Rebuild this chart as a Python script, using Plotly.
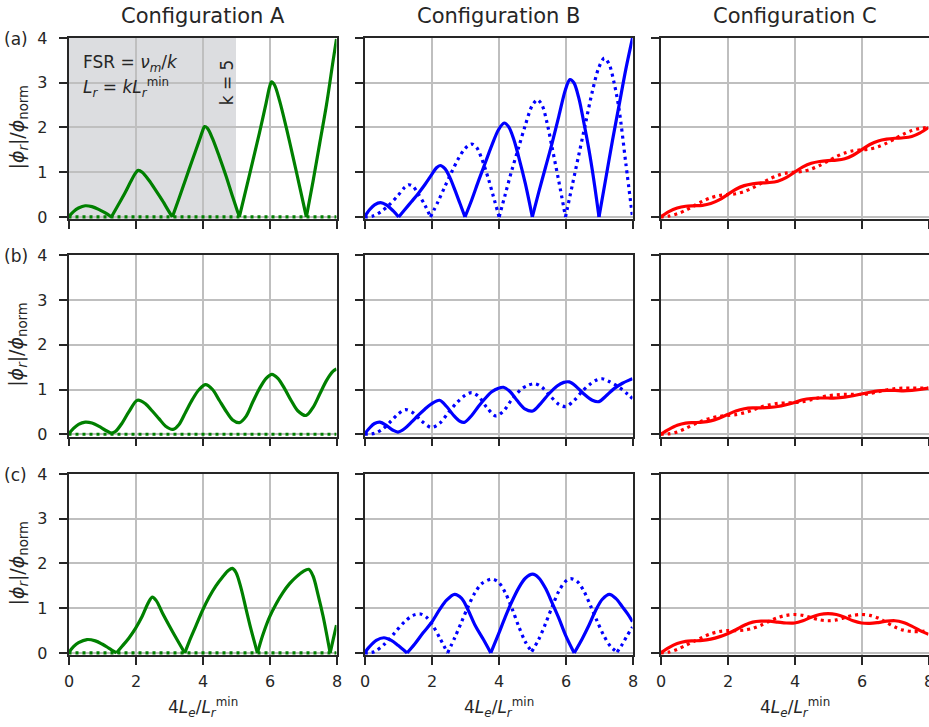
import plotly.graph_objects as go

# ---------------------------------------------------------------- data
# Configuration A (green): solid curves per row, dotted reference stays at zero
A_a_x = [0, 0.15, 0.3, 0.5, 0.7, 0.9, 1.1, 1.28, 1.5, 1.7, 1.85, 2.0, 2.08, 2.2, 2.4, 2.6, 2.8, 3.0, 3.1,
         3.3, 3.5, 3.7, 3.9, 4.0, 4.06, 4.15, 4.3, 4.5, 4.7, 4.9, 5.1,
         5.3, 5.5, 5.7, 5.9, 6.0, 6.06, 6.15, 6.3, 6.5, 6.7, 6.9, 7.1, 7.3, 7.5, 7.7, 7.9, 8.0]
A_a_y = [0, 0.12, 0.2, 0.25, 0.23, 0.17, 0.09, 0, 0.29, 0.56, 0.78, 0.98, 1.04, 1.0, 0.82, 0.6, 0.37, 0.12, 0,
         0.42, 0.85, 1.28, 1.7, 1.92, 2.02, 1.98, 1.75, 1.35, 0.92, 0.45, 0,
         0.62, 1.25, 1.88, 2.55, 2.9, 3.02, 2.95, 2.6, 2.0, 1.35, 0.68, 0, 0.8, 1.65, 2.5, 3.5, 3.98]

A_b_x = [0, 0.15, 0.3, 0.5, 0.7, 0.9, 1.1, 1.28, 1.4, 1.6, 1.8, 2.06, 2.3, 2.5, 2.7, 2.9, 3.12, 3.3, 3.5, 3.7,
         3.9, 4.09, 4.3, 4.5, 4.7, 4.9, 5.1, 5.3, 5.5, 5.7, 5.9, 6.07, 6.25, 6.45, 6.65, 6.85, 7.09, 7.3,
         7.5, 7.7, 7.9, 8.0]
A_b_y = [0, 0.13, 0.22, 0.27, 0.25, 0.18, 0.09, 0.02, 0.06, 0.25, 0.5, 0.76, 0.68, 0.52, 0.35, 0.18, 0.11, 0.22,
         0.5, 0.78, 1.0, 1.11, 1.0, 0.76, 0.52, 0.32, 0.26, 0.4, 0.72, 1.02, 1.25, 1.34, 1.25, 1.02, 0.75, 0.52,
         0.42, 0.6, 0.9, 1.2, 1.41, 1.46]

A_c_x = [0, 0.15, 0.3, 0.55, 0.8, 1.0, 1.2, 1.43, 1.6, 1.8, 2.0, 2.2, 2.38, 2.5, 2.62, 2.8, 3.0, 3.2, 3.47,
         3.6, 3.8, 4.0, 4.2, 4.4, 4.6, 4.78, 4.89, 5.0, 5.15, 5.3, 5.45, 5.64,
         5.8, 6.0, 6.2, 6.4, 6.6, 6.8, 7.0, 7.17, 7.3, 7.45, 7.6, 7.81, 7.9, 8.0]
A_c_y = [0, 0.14, 0.23, 0.3, 0.27, 0.2, 0.11, 0, 0.15, 0.33, 0.55, 0.82, 1.12, 1.25, 1.17, 0.9, 0.62, 0.35, 0,
         0.25, 0.6, 0.95, 1.25, 1.5, 1.7, 1.85, 1.89, 1.8, 1.45, 0.98, 0.52, 0,
         0.4, 0.8, 1.1, 1.35, 1.55, 1.7, 1.82, 1.87, 1.72, 1.3, 0.82, 0, 0.3, 0.62]

A_ref_x = [0, 8]
A_ref_y = [0, 0]

# Configuration B (blue)
B_a_x = [0, 0.15, 0.3, 0.48, 0.65, 0.85, 1.02, 1.2, 1.4, 1.6, 1.8, 2.0, 2.15, 2.26, 2.4, 2.55, 2.7, 2.85, 3.0,
         3.2, 3.4, 3.6, 3.8, 4.0, 4.17, 4.3, 4.45, 4.6, 4.8, 5.01,
         5.2, 5.4, 5.6, 5.8, 6.0, 6.13, 6.25, 6.4, 6.55, 6.7, 6.85, 7.0, 7.2, 7.4, 7.6, 7.8, 8.0]
B_a_y = [0, 0.16, 0.27, 0.32, 0.27, 0.14, 0, 0.16, 0.34, 0.52, 0.72, 0.94, 1.1, 1.15, 1.08, 0.88, 0.6, 0.3, 0,
         0.38, 0.8, 1.2, 1.6, 1.95, 2.1, 2.02, 1.75, 1.35, 0.75, 0,
         0.55, 1.1, 1.65, 2.25, 2.85, 3.07, 3.0, 2.65, 2.1, 1.5, 0.8, 0, 0.85, 1.7, 2.5, 3.3, 4.0]
B_a_dot_x = [0, 0.25, 0.5, 0.75, 1.0, 1.2, 1.32, 1.45, 1.6, 1.8, 1.97,
             2.2, 2.4, 2.6, 2.8, 3.0, 3.2, 3.35, 3.5, 3.7, 3.85, 4.02,
             4.2, 4.4, 4.6, 4.8, 5.0, 5.16, 5.3, 5.45, 5.6, 5.8, 6.0,
             6.2, 6.4, 6.6, 6.8, 7.0, 7.16, 7.3, 7.45, 7.6, 7.8, 8.0]
B_a_dot_y = [0, 0.02, 0.12, 0.28, 0.48, 0.66, 0.72, 0.68, 0.52, 0.27, 0,
             0.35, 0.68, 1.0, 1.3, 1.53, 1.63, 1.55, 1.3, 0.85, 0.45, 0,
             0.5, 1.05, 1.55, 2.05, 2.48, 2.62, 2.5, 2.1, 1.55, 0.8, 0,
             0.7, 1.4, 2.1, 2.8, 3.35, 3.55, 3.42, 3.0, 2.4, 1.2, 0]

B_b_x = [0, 0.15, 0.3, 0.46, 0.65, 0.85, 1.0, 1.2, 1.4, 1.6, 1.8, 2.0, 2.24, 2.45, 2.65, 2.85, 2.99, 3.2, 3.4,
         3.6, 3.8, 4.0, 4.15, 4.35, 4.55, 4.8, 5.02, 5.25, 5.5, 5.75, 5.95, 6.11, 6.3, 6.55, 6.8, 7.0, 7.2,
         7.45, 7.7, 7.9, 8.0]
B_b_y = [0, 0.14, 0.24, 0.27, 0.2, 0.09, 0.05, 0.13, 0.27, 0.42, 0.56, 0.68, 0.76, 0.62, 0.43, 0.29, 0.27, 0.42,
         0.62, 0.8, 0.95, 1.03, 1.05, 0.95, 0.76, 0.56, 0.52, 0.68, 0.9, 1.08, 1.16, 1.17, 1.08, 0.9, 0.76,
         0.73, 0.85, 1.02, 1.14, 1.21, 1.24]
B_b_dot_x = [0, 0.3, 0.55, 0.8, 1.0, 1.22, 1.45, 1.7, 2.0, 2.25, 2.5, 2.75, 3.0, 3.2, 3.4, 3.65, 3.92, 4.15,
             4.4, 4.7, 4.9, 5.09, 5.3, 5.55, 5.8, 6.01, 6.25, 6.5, 6.75, 6.95, 7.1, 7.3, 7.6, 7.85, 8.0]
B_b_dot_y = [0, 0.02, 0.12, 0.3, 0.45, 0.55, 0.48, 0.3, 0.15, 0.25, 0.48, 0.7, 0.87, 0.93, 0.85, 0.6, 0.41,
             0.52, 0.78, 1.02, 1.1, 1.13, 1.05, 0.85, 0.67, 0.62, 0.75, 0.96, 1.13, 1.22, 1.24, 1.18, 1.05,
             0.9, 0.8]

B_c_x = [0, 0.15, 0.35, 0.58, 0.8, 1.0, 1.27, 1.5, 1.75, 2.0, 2.25, 2.45, 2.69, 2.9, 3.1, 3.3, 3.55, 3.77,
         4.0, 4.2, 4.4, 4.6, 4.8, 5.02, 5.2, 5.4, 5.6, 5.8, 6.0, 6.26,
         6.5, 6.7, 6.9, 7.1, 7.31, 7.5, 7.7, 7.85, 8.0]
B_c_y = [0, 0.14, 0.28, 0.34, 0.28, 0.17, 0, 0.2, 0.45, 0.68, 0.98, 1.18, 1.31, 1.22, 0.95, 0.62, 0.3, 0,
         0.42, 0.8, 1.15, 1.45, 1.67, 1.76, 1.68, 1.45, 1.12, 0.78, 0.4, 0,
         0.32, 0.62, 0.95, 1.2, 1.31, 1.22, 1.03, 0.88, 0.7]
B_c_dot_x = [0, 0.3, 0.6, 0.9, 1.2, 1.45, 1.67, 1.85, 2.05, 2.25, 2.48,
             2.7, 2.9, 3.1, 3.3, 3.5, 3.8, 4.0, 4.2, 4.4, 4.6, 4.8, 4.99,
             5.2, 5.4, 5.6, 5.8, 6.0, 6.15, 6.35, 6.55, 6.75, 6.95, 7.15, 7.35, 7.54,
             7.7, 7.85, 8.0]
B_c_dot_y = [0, 0.03, 0.2, 0.45, 0.7, 0.84, 0.87, 0.8, 0.6, 0.33, 0,
             0.35, 0.7, 1.05, 1.35, 1.55, 1.65, 1.58, 1.35, 1.0, 0.6, 0.25, 0.03,
             0.3, 0.65, 1.03, 1.38, 1.6, 1.66, 1.6, 1.38, 1.05, 0.7, 0.38, 0.14, 0.02,
             0.2, 0.4, 0.58]

# Configuration C (red), sampled every 0.25
C_x = [0, 0.25, 0.5, 0.75, 1, 1.25, 1.5, 1.75, 2, 2.25, 2.5, 2.75, 3, 3.25, 3.5, 3.75, 4,
       4.25, 4.5, 4.75, 5, 5.25, 5.5, 5.75, 6, 6.25, 6.5, 6.75, 7, 7.25, 7.5, 7.75, 8]
C_a_y = [0, 0.12, 0.2, 0.24, 0.25, 0.26, 0.3, 0.38, 0.5, 0.62, 0.7, 0.74, 0.76, 0.77, 0.8, 0.88, 1.0,
         1.12, 1.2, 1.24, 1.26, 1.27, 1.3, 1.38, 1.5, 1.62, 1.7, 1.74, 1.76, 1.77, 1.8, 1.88, 2.0]
C_a_dot_y = [0, 0.02, 0.07, 0.15, 0.25, 0.35, 0.43, 0.48, 0.5, 0.52, 0.57, 0.65, 0.75, 0.85, 0.93, 0.98, 1.0,
             1.02, 1.07, 1.15, 1.25, 1.35, 1.43, 1.48, 1.5, 1.52, 1.57, 1.65, 1.75, 1.85, 1.93, 1.98, 2.0]
C_b_y = [0, 0.11, 0.2, 0.25, 0.26, 0.27, 0.3, 0.36, 0.44, 0.52, 0.57, 0.59, 0.59, 0.6, 0.62, 0.66, 0.71,
         0.77, 0.8, 0.81, 0.81, 0.81, 0.83, 0.86, 0.9, 0.94, 0.97, 0.98, 0.98, 0.97, 0.98, 1.0, 1.03]
C_b_dot_y = [0, 0.01, 0.05, 0.13, 0.22, 0.3, 0.36, 0.4, 0.42, 0.44, 0.48, 0.54, 0.61, 0.66, 0.69, 0.7, 0.71,
             0.73, 0.77, 0.82, 0.86, 0.88, 0.89, 0.89, 0.89, 0.91, 0.95, 0.99, 1.02, 1.03, 1.03, 1.03, 1.03]
C_c_y = [0, 0.12, 0.21, 0.26, 0.27, 0.28, 0.31, 0.36, 0.43, 0.52, 0.62, 0.69, 0.71, 0.71, 0.69, 0.67, 0.67,
         0.72, 0.8, 0.86, 0.88, 0.86, 0.8, 0.72, 0.67, 0.66, 0.68, 0.71, 0.72, 0.68, 0.6, 0.5, 0.42]
C_c_dot_y = [0, 0.02, 0.08, 0.17, 0.26, 0.35, 0.43, 0.48, 0.5, 0.5, 0.51, 0.55, 0.62, 0.71, 0.79, 0.84, 0.86,
             0.84, 0.79, 0.74, 0.72, 0.74, 0.79, 0.84, 0.86, 0.84, 0.78, 0.68, 0.58, 0.51, 0.48, 0.48, 0.5]

col_titles = ["Configuration A", "Configuration B", "Configuration C"]
row_labels = ["(a)", "(b)", "(c)"]
x_ticks = [0, 2, 4, 6, 8]
y_ticks = [0, 1, 2, 3, 4]

# ---------------------------------------------------------------- style
W, H = 929, 727
INK = "#262626"
GRID = "#bfbfbf"
FONT = "DejaVu Sans"
LW = 3.2
DOT = "3px,4px"
TICK_SIZE = 16
XLABEL_Y = 681.5   # pixel row of the bottom tick-label centres

# panel frames in pixels: (left, right) per column, (top, bottom) per row
col_px = [(68.5, 336.5), (364.5, 632.5), (660.5, 928.5)]
row_px = [(38.0, 219.2), (255.3, 436.5), (474.0, 655.2)]
Y_LO = -0.05

panels = [
    [(A_a_x, A_a_y, "green", A_ref_x, A_ref_y), (B_a_x, B_a_y, "blue", B_a_dot_x, B_a_dot_y),
     (C_x, C_a_y, "red", C_x, C_a_dot_y)],
    [(A_b_x, A_b_y, "green", A_ref_x, A_ref_y), (B_b_x, B_b_y, "blue", B_b_dot_x, B_b_dot_y),
     (C_x, C_b_y, "red", C_x, C_b_dot_y)],
    [(A_c_x, A_c_y, "green", A_ref_x, A_ref_y), (B_c_x, B_c_y, "blue", B_c_dot_x, B_c_dot_y),
     (C_x, C_c_y, "red", C_x, C_c_dot_y)],
]


def split_at_cusps(xs, ys, tol=0.035):
    """Break a curve at its (near-)zero local minima so each arch is smoothed on its own."""
    cuts = [i for i in range(1, len(ys) - 1)
            if ys[i] <= ys[i - 1] and ys[i] <= ys[i + 1] and ys[i] < tol]
    bounds = [0] + cuts + [len(ys) - 1]
    return [(xs[a:b + 1], ys[a:b + 1]) for a, b in zip(bounds[:-1], bounds[1:])]


fig = go.Figure()
layout_axes = {}
annotations = []

for r in range(3):
    for c in range(3):
        n = r * 3 + c + 1
        xa = "x" if n == 1 else f"x{n}"
        ya = "y" if n == 1 else f"y{n}"
        xs, ys, color, dxs, dys = panels[r][c]

        for sx, sy in split_at_cusps(dxs, dys):
            fig.add_trace(go.Scatter(x=sx, y=sy, mode="lines", xaxis=xa, yaxis=ya,
                                     line=dict(color=color, width=LW, dash=DOT, shape="spline",
                                               smoothing=0.9),
                                     showlegend=False, hoverinfo="skip"))
        for sx, sy in split_at_cusps(xs, ys):
            fig.add_trace(go.Scatter(x=sx, y=sy, mode="lines", xaxis=xa, yaxis=ya,
                                     line=dict(color=color, width=LW, shape="spline", smoothing=0.9),
                                     showlegend=False, hoverinfo="skip"))

        l, rr = col_px[c]
        t, b = row_px[r]
        common = dict(showgrid=True, gridcolor=GRID, gridwidth=1.5, zeroline=False,
                      showline=True, linecolor=INK, linewidth=1.5, mirror=True,
                      ticks="outside", ticklen=8, tickwidth=1.5, tickcolor=INK, automargin=False,
                      tickfont=dict(family=FONT, size=TICK_SIZE, color=INK))
        layout_axes[f"xaxis{'' if n == 1 else n}"] = dict(
            common, domain=[l / W, rr / W], range=[0, 8], tickvals=x_ticks,
            showticklabels=False, anchor=ya)
        layout_axes[f"yaxis{'' if n == 1 else n}"] = dict(
            common, domain=[1 - b / H, 1 - t / H], range=[Y_LO, 4], tickvals=y_ticks,
            showticklabels=(c == 0), anchor=xa, ticklabelstandoff=8)

        # bottom-row tick labels as text so the last one may run past the page edge
        if r == 2:
            for v in x_ticks:
                annotations.append(dict(text=str(v), x=v, xref=xa, y=1 - XLABEL_Y / H, yref="paper",
                                        showarrow=False, xanchor="center", yanchor="middle",
                                        font=dict(family=FONT, size=TICK_SIZE, color=INK)))

# shaded FSR region in panel (a), Configuration A
fig.add_shape(type="rect", xref="x", yref="y", x0=0, x1=5, y0=Y_LO, y1=4,
              fillcolor="#dcdde0", line=dict(width=0), layer="below")

# column titles
for c, title in enumerate(col_titles):
    l, rr = col_px[c]
    annotations.append(dict(text=title, x=(l + rr) / 2 / W, y=1 - 16 / H, xref="paper", yref="paper",
                            showarrow=False, xanchor="center", yanchor="middle",
                            font=dict(family=FONT, size=21, color=INK)))

# row labels and y titles
ytitle = "|<i>ϕ</i><sub><i>r</i></sub>|/<i>ϕ</i><sub>norm</sub>"
for r, lab in enumerate(row_labels):
    t, b = row_px[r]
    annotations.append(dict(text=lab, x=16 / W, y=1 - (t + 1) / H, xref="paper", yref="paper",
                            showarrow=False, xanchor="center", yanchor="middle",
                            font=dict(family=FONT, size=17, color=INK)))
    y0px = b - (0 - Y_LO) * (b - t) / (4 - Y_LO)
    annotations.append(dict(text=ytitle, x=18 / W, y=1 - ((t + y0px) / 2) / H, xref="paper",
                            yref="paper", showarrow=False, textangle=-90,
                            xanchor="center", yanchor="middle",
                            font=dict(family=FONT, size=19, color=INK)))

# x titles
xtitle = "4<i>L</i><sub><i>e</i></sub>/<i>L</i><sub><i>r</i></sub><sup>min</sup>"
for c in range(3):
    l, rr = col_px[c]
    annotations.append(dict(text=xtitle, x=(l + rr) / 2 / W, y=1 - 707 / H, xref="paper", yref="paper",
                            showarrow=False, xanchor="center", yanchor="middle",
                            font=dict(family=FONT, size=17, color=INK)))

# in-panel annotations
annotations.append(dict(text="FSR = <i>ν</i><sub><i>m</i></sub>/<i>k</i>", x=0.38, y=3.44,
                        xref="x", yref="y", showarrow=False, xanchor="left", yanchor="middle",
                        font=dict(family=FONT, size=17, color=INK)))
annotations.append(dict(text="<i>L</i><sub><i>r</i></sub> = <i>kL</i><sub><i>r</i></sub><sup>min</sup>",
                        x=0.38, y=2.9, xref="x", yref="y", showarrow=False, xanchor="left",
                        yanchor="middle", font=dict(family=FONT, size=17, color=INK)))
annotations.append(dict(text="k = 5", x=4.72, y=3.0, xref="x", yref="y", showarrow=False,
                        textangle=-90, xanchor="center", yanchor="middle",
                        font=dict(family=FONT, size=17, color=INK)))

fig.update_layout(width=W, height=H, margin=dict(l=0, r=0, t=0, b=0, autoexpand=False),
                  paper_bgcolor="white", plot_bgcolor="white",
                  font=dict(family=FONT, color=INK), showlegend=False,
                  annotations=annotations, **layout_axes)

fig.write_html("out.html")
